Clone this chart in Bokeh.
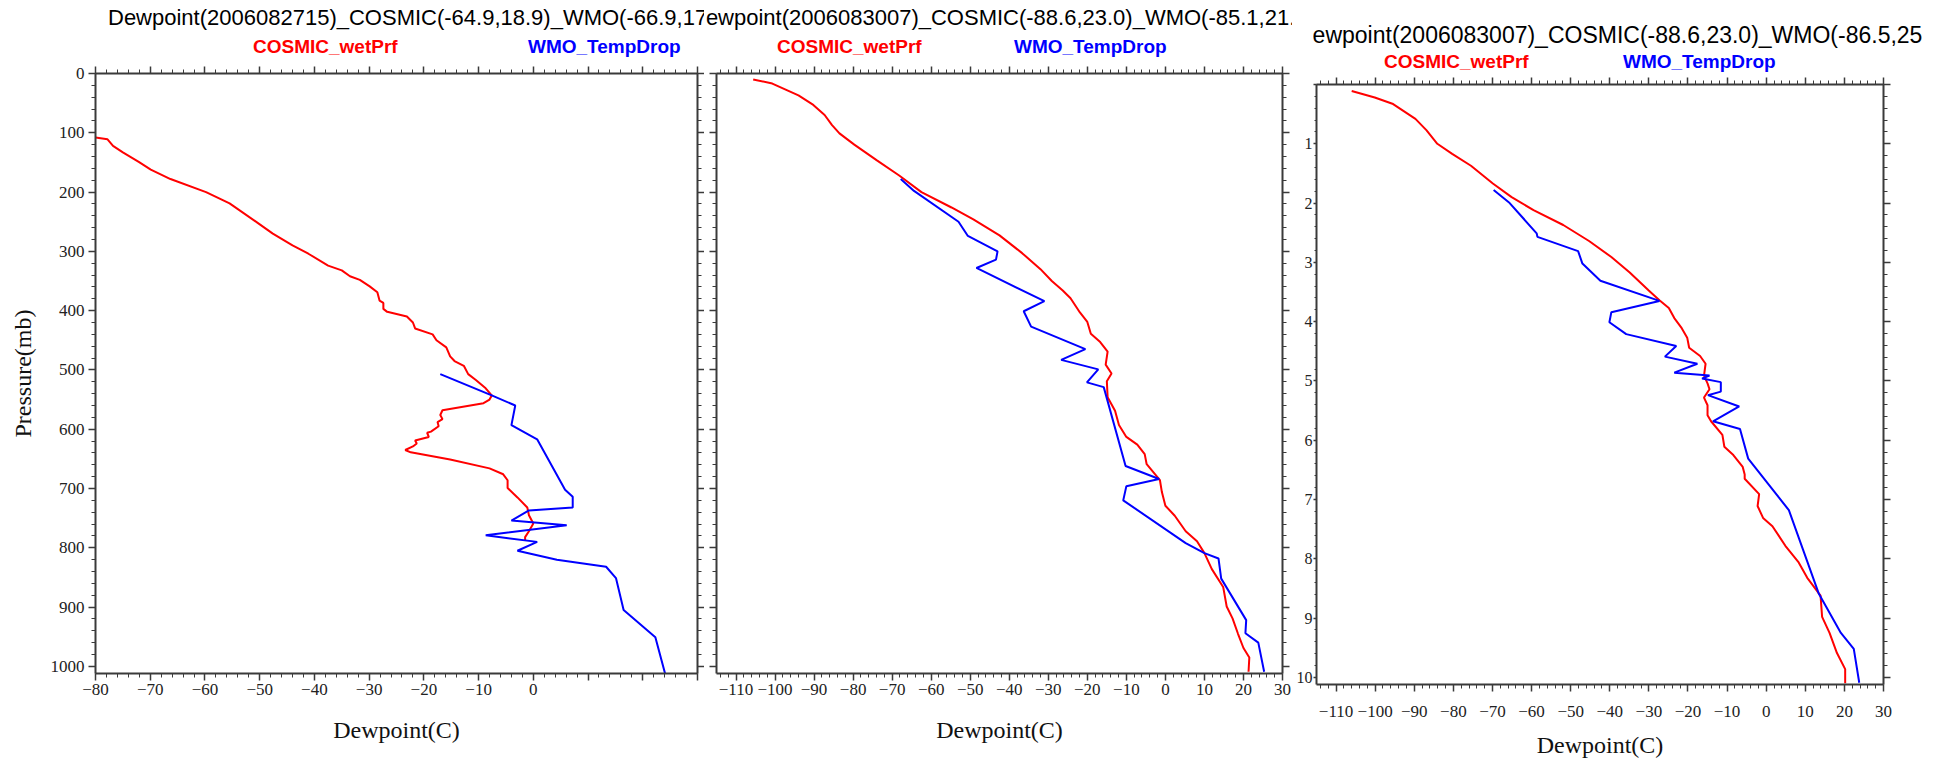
from bokeh.plotting import figure
from bokeh.layouts import row, column
from bokeh.models import (Range1d, LinearAxis, SingleIntervalTicker,
                          CustomJSTickFormatter, Div)
from bokeh.embed import file_html
from bokeh.resources import INLINE

# ---------------- data ----------------
p1_cosmic_p = [108, 111, 122, 133, 149, 162, 178, 200, 219, 251, 270, 290, 304, 324, 332, 342, 348, 359, 369, 383,
               387, 397, 402, 410, 420, 430, 440, 450, 462, 477, 485, 493, 507, 517, 531, 543, 550, 556, 568, 576,
               583, 588, 595, 604, 606, 613, 619, 624, 629, 635, 639, 651, 666, 676, 686, 699, 715, 732, 745, 759,
               772, 782, 788]
p1_cosmic_td = [-80, -77.8, -76.8, -75, -72.1, -69.9, -66.3, -59.8, -55.5, -50.5, -47.6, -44, -41.1, -37.5, -35,
                -33.5, -31.7, -29.9, -28.5, -28.1, -27.4, -27.4, -26.7, -23.1, -22, -21.6, -18.4, -17.7, -15.9, -15.2,
                -14.4, -12.7, -11.9, -10.5, -8.7, -7.6, -8, -9.1, -16.6, -17, -16.6, -17.5, -17.3, -18.7, -19.4,
                -19.1, -21.6, -21.3, -22, -23.4, -22.4, -15.2, -8, -5.5, -4.7, -4.7, -2.9, -1.1, -0.8, 0,
                -0.8, -1.5, -1.5]
p1_wmo_p = [507, 543, 560, 593, 617, 702, 714, 732, 737, 754, 762, 779, 790, 805, 820, 832, 851, 905, 951, 1013]
p1_wmo_td = [-17, -7.6, -3.3, -4, 0.7, 5.8, 7.2, 7.2, -0.8, -4, 6.1, -8.7, 0.7, -2.9, 4.3, 13.3, 15.1, 16.5, 22.3, 24.1]

p2_cosmic_p = [10, 17, 37, 53, 70, 87, 101, 120, 146, 172, 200, 226, 246, 273, 303, 330, 350, 366, 379, 403,
               419, 439, 453, 469, 491, 506, 519, 546, 569, 593, 613, 626, 642, 659, 686, 706, 729, 746, 772, 789,
               809, 836, 866, 899, 919, 945, 969, 985, 1009]
p2_cosmic_td = [-105.6, -100.7, -94, -90.2, -87.3, -85.4, -83.5, -79.7, -74, -68.2, -62.5, -54.8, -49.2, -42.5,
                -36.7, -32, -29.1, -26.3, -24.3, -21.9, -20, -19.1, -16.7, -14.8, -15.3, -13.8, -15, -14.8, -12.9,
                -11.9, -10, -7.2, -5.3, -4.8, -1.4, -0.9, 0, 2.4, 5.2, 8.1, 10, 11.9, 14.8, 15.7, 17.2, 18.6, 20,
                21.5, 21.3]
p2_wmo_p = [178, 198, 250, 274, 300, 314, 328, 384, 401, 427, 465, 483, 499, 521, 529, 662, 684, 696, 720, 792,
            809, 818, 852, 922, 944, 960, 1009]
p2_wmo_td = [-67.8, -64.4, -53, -50.6, -43, -43.4, -48.4, -31, -36.3, -34.4, -20.5, -26.7, -17.2, -20.1, -15.8,
             -10.2, -1.6, -10, -10.8, 5.2, 10, 13.6, 14.3, 20.7, 20.5, 23.8, 25.3]

p3_cosmic_p = [11, 22, 33, 58, 77, 100, 117, 137, 167, 190, 212, 237, 264, 291, 317, 347, 364, 377, 394, 411,
               427, 444, 458, 471, 491, 504, 514, 528, 541, 558, 568, 591, 611, 625, 645, 658, 665, 691, 711, 731,
               745, 778, 805, 832, 862, 898, 925, 959, 986, 1010]
p3_cosmic_td = [-106, -100.1, -95.4, -89.7, -86.9, -84.1, -80.3, -75.5, -69.9, -65.1, -59.5, -51.9, -45.3, -39.6,
                -34.9, -30.1, -27.3, -24.9, -23.5, -21.6, -20.2, -19.7, -16.9, -15.5, -15.9, -15, -14.5, -15.9, -15,
                -15, -14.1, -11.2, -10.7, -8.4, -6, -5.5, -5.5, -1.8, -2.2, -0.8, 1.6, 4.9, 8.2, 10.5, 13.9, 14.3,
                16.2, 18.1, 20.2, 20.2]
p3_wmo_p = [178, 200, 251, 257, 281, 302, 331, 365, 384, 401, 421, 441, 459, 471, 486, 491, 496, 502, 518, 524,
            543, 568, 581, 631, 718, 858, 925, 952, 1009]
p3_wmo_td = [-69.7, -65.6, -58.7, -58.5, -48.1, -47, -42.4, -27.3, -39.6, -40.1, -35.8, -23, -25.9, -17.6, -23.5,
             -14.5, -16.4, -11.6, -11.6, -14.9, -6.9, -13.6, -6.7, -4.6, 5.8, 13.4, 19.1, 22.4, 23.8]

titles = ["Dewpoint(2006082715)_COSMIC(-64.9,18.9)_WMO(-66.9,17",
          "Dewpoint(2006083007)_COSMIC(-88.6,23.0)_WMO(-85.1,21.5",
          "Dewpoint(2006083007)_COSMIC(-88.6,23.0)_WMO(-86.5,25"]
series_names = ["COSMIC_wetPrf", "WMO_TempDrop"]
x_ranges = [(-80, 30), (-115, 30), (-115, 30)]
x_title = "Dewpoint(C)"
y_title = "Pressure(mb)"
Y_MAX = 1012

RED = "#ff0000"
BLUE = "#0000ff"
AX = "#3a3a3a"
SERIF = "Liberation Serif"

# ---------------- layout (page pixels, page starts at 0) ----------------
TOP_B = 12      # figure border above the frame
BOT_B = 76      # figure border below the frame
FH = 600        # frame height
cfgs = [
    dict(fig_left=0, bl=95, fw=602, br=7, frame_top=73, title_size=22,
         clip_left=0, title_x=108, title_y=18, leg_x=(253, 528), leg_y=47,
         tick_standoff=3, lab_standoff=19),
    dict(fig_left=704, bl=12, fw=566, br=10, frame_top=73, title_size=22,
         clip_left=706, title_x=706 - 16, title_y=18, leg_x=(777, 1014), leg_y=47,
         tick_standoff=3, lab_standoff=19),
    dict(fig_left=1292, bl=24, fw=567, br=40, frame_top=84, title_size=23,
         clip_left=1313, title_x=1313 - 17, title_y=35, leg_x=(1384, 1623), leg_y=62,
         tick_standoff=14, lab_standoff=12),
]


def style_axis(ax, tick_out=7, minor_out=4):
    ax.axis_line_color = AX
    ax.axis_line_width = 2
    ax.major_tick_line_color = AX
    ax.major_tick_line_width = 1.5
    ax.minor_tick_line_color = AX
    ax.minor_tick_line_width = 1
    ax.major_tick_in = 0
    ax.major_tick_out = tick_out
    ax.minor_tick_in = 0
    ax.minor_tick_out = minor_out
    ax.major_label_text_font = SERIF
    ax.major_label_text_font_size = "17px"
    ax.major_label_text_color = "#222222"
    ax.axis_label_text_font = SERIF
    ax.axis_label_text_font_size = "24px"
    ax.axis_label_text_font_style = "normal"
    ax.axis_label_text_color = "#111111"


def blank(ax):
    ax.formatter = CustomJSTickFormatter(code="return ''")
    ax.major_label_standoff = 0


def header_div(i):
    c = cfgs[i]
    W = c["bl"] + c["fw"] + c["br"]
    H = c["frame_top"] - TOP_B
    fl = c["fig_left"]
    cl = c["clip_left"] - fl
    ts = c["title_size"]
    html = [f'<div style="position:relative;width:{W}px;height:{H}px;overflow:hidden;'
            f'font-family:\'Liberation Sans\',Arial,sans-serif;">']
    html.append(f'<div style="position:absolute;left:{cl}px;top:{c["title_y"] - 14}px;width:{W - cl}px;'
                f'height:28px;overflow:hidden;">'
                f'<span style="position:absolute;left:{c["title_x"] - c["clip_left"]}px;top:0px;'
                f'font-size:{ts}px;line-height:28px;white-space:nowrap;color:#000000;">{titles[i]}</span></div>')
    for name, col, lx in zip(series_names, [RED, BLUE], c["leg_x"]):
        html.append(f'<span style="position:absolute;left:{lx - fl}px;top:{c["leg_y"] - 12}px;'
                    f'font-size:19px;line-height:24px;font-weight:bold;white-space:nowrap;'
                    f'color:{col};">{name}</span>')
    html.append('</div>')
    return Div(text="".join(html), width=W, height=H, margin=0,
               styles={"overflow": "hidden"})


def make_panel(i, cosmic_p, cosmic_td, wmo_p, wmo_td):
    c = cfgs[i]
    xr = x_ranges[i]
    p = figure(frame_width=c["fw"], frame_height=FH,
               x_range=Range1d(*xr), y_range=Range1d(Y_MAX, 0),
               output_backend="svg", toolbar_location=None,
               min_border_left=c["bl"], min_border_right=c["br"],
               min_border_top=TOP_B, min_border_bottom=BOT_B, margin=0)
    p.outline_line_color = None
    p.xgrid.visible = False
    p.ygrid.visible = False
    p.background_fill_color = "white"
    p.border_fill_color = "white"

    xt = lambda: SingleIntervalTicker(interval=10, num_minor_ticks=5)
    yt = lambda: SingleIntervalTicker(interval=100, num_minor_ticks=5)

    bx = p.xaxis[0]
    bx.ticker = xt()
    style_axis(bx)
    bx.axis_label = x_title
    bx.major_label_standoff = c["tick_standoff"]
    bx.axis_label_standoff = c["lab_standoff"]
    if i == 0:
        bx.major_label_overrides = {10: "", 20: "", 30: ""}

    ly = p.yaxis[0]
    ly.ticker = yt()
    if i == 0:
        style_axis(ly)
        ly.axis_label = y_title
        ly.major_label_standoff = 4
        ly.axis_label_standoff = 12
    elif i == 1:
        style_axis(ly)
        blank(ly)
    else:
        style_axis(ly, tick_out=3, minor_out=2)
        ly.major_label_text_font_size = "16px"
        ly.major_label_standoff = 1
        ly.major_label_overrides = {0: "", 100: "1", 200: "2", 300: "3", 400: "4", 500: "5",
                                    600: "6", 700: "7", 800: "8", 900: "9", 1000: "10"}

    tx = LinearAxis(ticker=xt())
    style_axis(tx)
    blank(tx)
    p.add_layout(tx, "above")
    ry = LinearAxis(ticker=yt())
    style_axis(ry)
    blank(ry)
    p.add_layout(ry, "right")

    p.line(cosmic_td, cosmic_p, line_color=RED, line_width=2)
    p.line(wmo_td, wmo_p, line_color=BLUE, line_width=2)

    return column(header_div(i), p, spacing=0, margin=0)


c1 = make_panel(0, p1_cosmic_p, p1_cosmic_td, p1_wmo_p, p1_wmo_td)
c2 = make_panel(1, p2_cosmic_p, p2_cosmic_td, p2_wmo_p, p2_wmo_td)
c3 = make_panel(2, p3_cosmic_p, p3_cosmic_td, p3_wmo_p, p3_wmo_td)

layout = row(c1, c2, c3, spacing=0, margin=0)
open("out.html", "w").write(file_html(layout, INLINE))
